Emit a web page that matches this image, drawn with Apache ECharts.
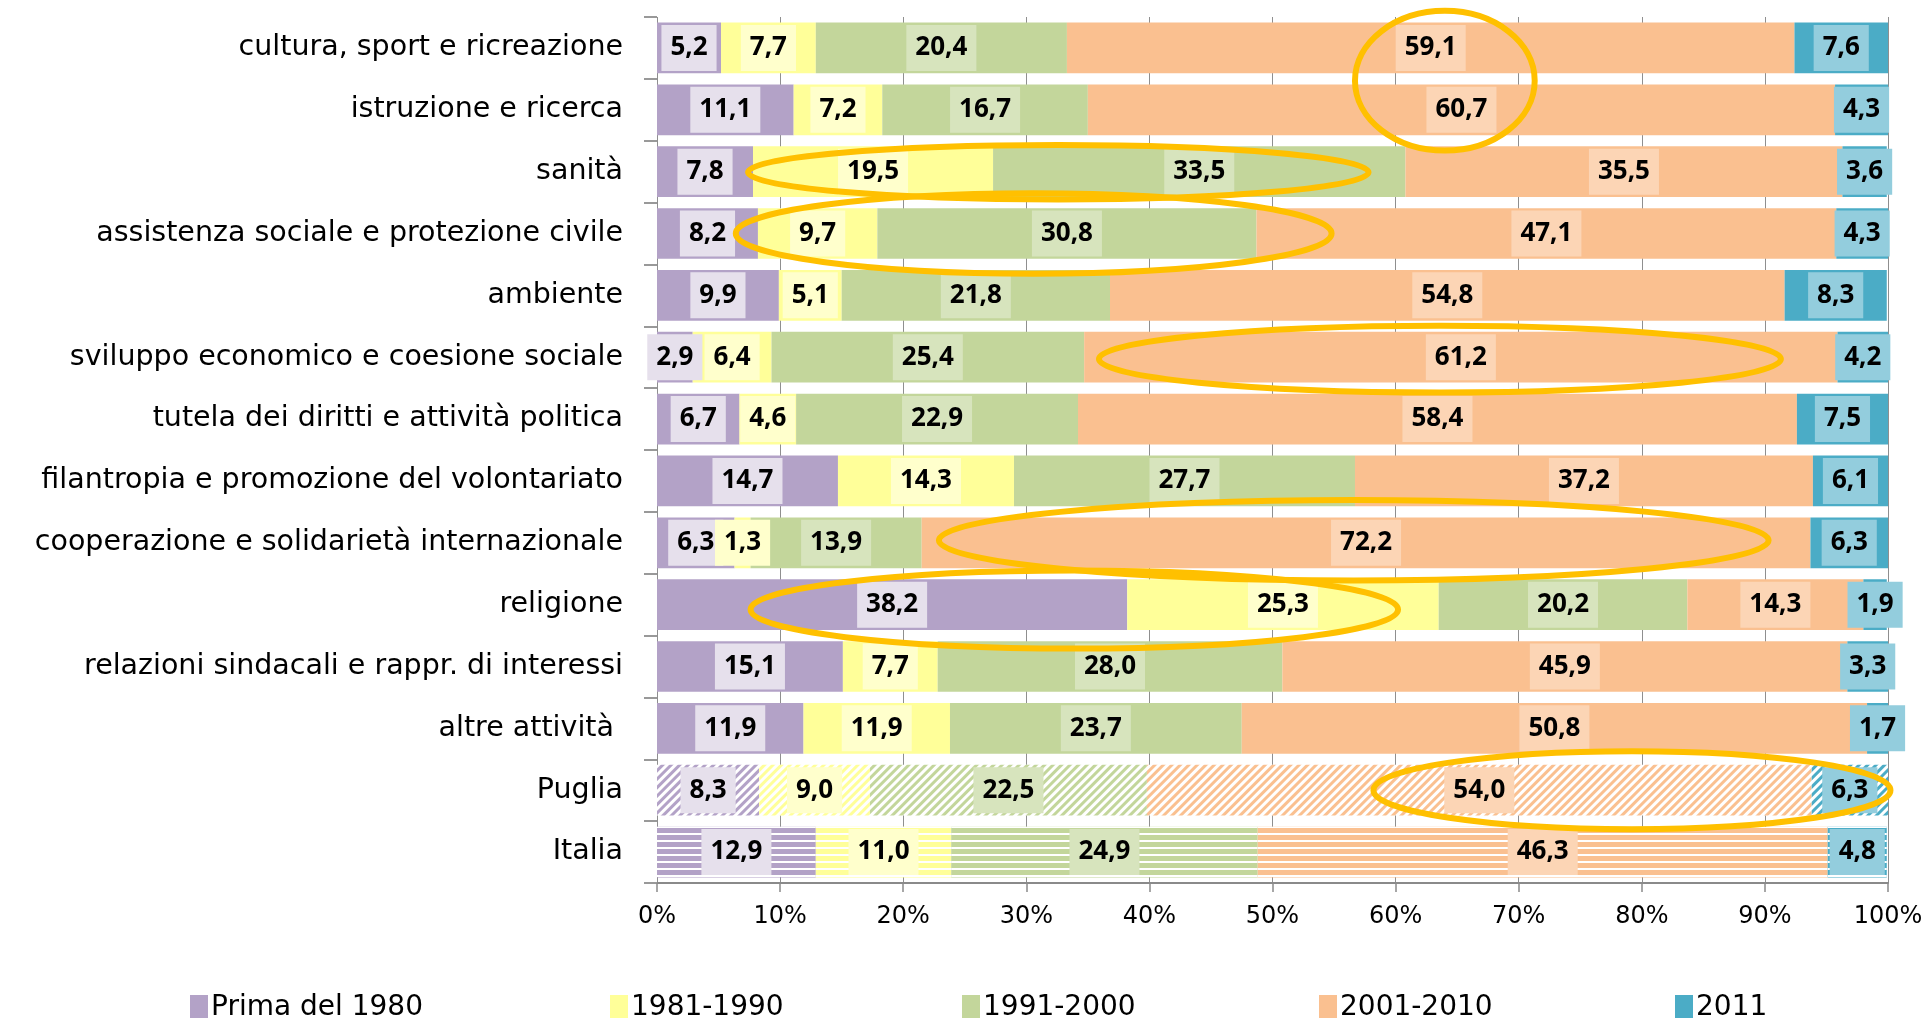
<!DOCTYPE html>
<html><head><meta charset="utf-8">
<script src="https://cdn.jsdelivr.net/npm/echarts@6/dist/echarts.min.js"></script>
<style>html,body{margin:0;padding:0;background:#fff}#c{width:1923px;height:1018px}</style>
</head><body><div id="c"></div>
<script>
const categories = [
  'cultura, sport e ricreazione',
  'istruzione e ricerca',
  'sanità',
  'assistenza sociale e protezione civile',
  'ambiente',
  'sviluppo economico e coesione sociale',
  'tutela dei diritti e attività politica',
  'filantropia e promozione del volontariato',
  'cooperazione e solidarietà internazionale',
  'religione',
  'relazioni sindacali e rappr. di interessi',
  'altre attività ',
  'Puglia',
  'Italia'
];
const seriesNames = ['Prima del 1980', '1981-1990', '1991-2000', '2001-2010', '2011'];
const prima1980 = [5.2, 11.1, 7.8, 8.2, 9.9, 2.9, 6.7, 14.7, 6.3, 38.2, 15.1, 11.9, 8.3, 12.9];
const y1981_1990 = [7.7, 7.2, 19.5, 9.7, 5.1, 6.4, 4.6, 14.3, 1.3, 25.3, 7.7, 11.9, 9.0, 11.0];
const y1991_2000 = [20.4, 16.7, 33.5, 30.8, 21.8, 25.4, 22.9, 27.7, 13.9, 20.2, 28.0, 23.7, 22.5, 24.9];
const y2001_2010 = [59.1, 60.7, 35.5, 47.1, 54.8, 61.2, 58.4, 37.2, 72.2, 14.3, 45.9, 50.8, 54.0, 46.3];
const y2011 = [7.6, 4.3, 3.6, 4.3, 8.3, 4.2, 7.5, 6.1, 6.3, 1.9, 3.3, 1.7, 6.3, 4.8];
const xMin = 0, xMax = 100, xStep = 10;
// highlight ellipses in data units: [x centre %, row position, x radius %, y radius in rows]
const highlights = [
  [64.0, 0.53, 7.3, 1.13],
  [32.6, 2.01, 25.2, 0.44],
  [30.6, 3.0, 24.2, 0.65],
  [63.6, 5.03, 27.7, 0.54],
  [56.6, 7.96, 33.7, 0.65],
  [33.9, 9.08, 26.3, 0.63],
  [79.2, 12.0, 21.0, 0.63]
];

const allValues = [prima1980, y1981_1990, y1991_2000, y2001_2010, y2011];
const colors = ['#B3A2C7', '#FFFF99', '#C3D69B', '#FAC090', '#4BACC6'];
const labelBg = ['#E6E0EC', '#FFFFCC', '#D7E4BD', '#FCD5B5', '#93CDDD'];
const FONT = 'DejaVu Sans';
const LFONT = 'Open Sans';

const series = allValues.map((vals, si) => ({
  name: seriesNames[si],
  type: 'bar',
  stack: 'tot',
  barCategoryGap: '18%',
  itemStyle: { color: colors[si] },
  label: {
    show: true, position: 'inside',
    formatter: p => p.value.toFixed(1).replace('.', ','),
    fontFamily: LFONT, fontWeight: 'bold', fontSize: 26, color: '#000',
    backgroundColor: labelBg[si], padding: [8, 9], lineHeight: 30
  },
  emphasis: { disabled: true },
  data: vals.map((v, i) => {
    const c = categories[i];
    if (c === 'Puglia') {
      return { value: v, itemStyle: { color: '#ffffff', decal: { symbol: 'rect', symbolSize: 1, color: colors[si], dashArrayX: [1, 0], dashArrayY: [3, 3], rotation: -Math.PI / 4 } } };
    }
    if (c === 'Italia') {
      return { value: v, itemStyle: { color: colors[si], decal: { symbol: 'rect', symbolSize: 1, color: '#ffffff', dashArrayX: [1, 0], dashArrayY: [2, 5], rotation: 0 } } };
    }
    return v;
  })
}));

const legendLefts = [185, 605, 957, 1314, 1670];
const legends = seriesNames.map((n, i) => ({
  data: [n], left: legendLefts[i], top: 989, itemWidth: 18, itemHeight: 26, itemGap: 0,
  icon: 'rect', selectedMode: false,
  textStyle: { fontFamily: FONT, fontSize: 28, color: '#000', padding: [0, 0, 0, -2] }
}));

const chart = echarts.init(document.getElementById('c'), null, { renderer: 'canvas' });
chart.setOption({
  animation: false,
  backgroundColor: '#fff',
  color: colors,
  legend: legends,
  grid: { left: 657, right: 35, top: 17, bottom: 135, containLabel: false, outerBoundsMode: 'none' },
  xAxis: {
    type: 'value', min: xMin, max: xMax, interval: xStep,
    axisLine: { show: true, lineStyle: { color: '#8a8a8a', width: 2 } },
    axisTick: { show: true, length: 9, lineStyle: { color: '#8a8a8a', width: 1.5 } },
    splitLine: { show: true, lineStyle: { color: '#8f8f8f', width: 1 } },
    axisLabel: { formatter: '{value}%', fontFamily: FONT, fontSize: 24, color: '#000', margin: 22 }
  },
  yAxis: {
    type: 'category', inverse: true, data: categories,
    axisLine: { show: false },
    axisTick: { show: true, length: 13, lineStyle: { color: '#999', width: 2 } },
    axisLabel: { fontFamily: FONT, fontSize: 28.5, color: '#000', margin: 34 }
  },
  series: series
});

const yA = chart.convertToPixel({ yAxisIndex: 0 }, 0);
const yB = chart.convertToPixel({ yAxisIndex: 0 }, 1);
const step = yB - yA;
const x0 = chart.convertToPixel({ xAxisIndex: 0 }, 0);
const x1 = chart.convertToPixel({ xAxisIndex: 0 }, 1);
const pxPerUnit = x1 - x0;
chart.setOption({
  graphic: highlights.map(h => ({
    type: 'ellipse', z: 100, silent: true,
    shape: { cx: chart.convertToPixel({ xAxisIndex: 0 }, h[0]), cy: yA + h[1] * step, rx: h[2] * pxPerUnit, ry: h[3] * step },
    style: { fill: 'none', stroke: '#FFC000', lineWidth: 6 }
  }))
});
</script></body></html>
